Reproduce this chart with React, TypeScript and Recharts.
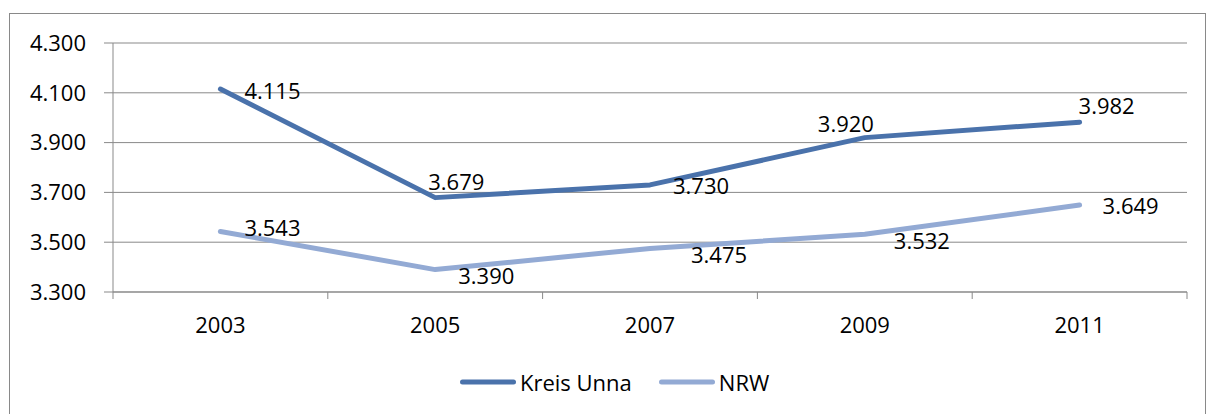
import React from 'react';
import { LineChart, Line, XAxis, YAxis, CartesianGrid, Legend } from 'recharts';

const years = ['2003', '2005', '2007', '2009', '2011'];
const kreisUnna = [4115, 3679, 3730, 3920, 3982];
const nrw = [3543, 3390, 3475, 3532, 3649];
const yTicks = [3300, 3500, 3700, 3900, 4100, 4300];

const seriesNames = ['Kreis Unna', 'NRW'];
const colors = ['#4A72AB', '#93AAD4'];

// label offsets (style, relative to point)
const unnaLabelOffsets = [[24, 2], [-7, -16], [23, 1], [-47, -14], [-1, -16]];
const nrwLabelOffsets = [[24, -3], [23, 6], [41, 7], [29, 7], [23, 1]];

const data = years.map((y, i) => ({ x: i + 0.5, year: y, unna: kreisUnna[i], nrw: nrw[i] }));

const FONT = '"Open Sans", sans-serif';
const FS = 22;
const GRAY = '#898989';

const fmt = (v: number) => `${Math.floor(v / 1000)}.${String(Math.round(v % 1000)).padStart(3, '0')}`;

const makeLabel = (offsets: number[][], values: number[]) => (props: any) => {
  const { x, y, value } = props;
  let idx = props.index;
  if (idx == null) idx = values.indexOf(value);
  const o = offsets[idx] || [0, 0];
  return (
    <text x={x + o[0]} y={y + o[1] + 8} fontSize={FS} fontFamily={FONT} fill="#000" textAnchor="start">
      {fmt(value)}
    </text>
  );
};

const XTick = (props: any) => {
  const { x, y, payload } = props;
  const v = payload.value;
  if (Math.abs(v - Math.round(v)) < 1e-6) {
    return <line x1={x} x2={x} y1={y} y2={y + 7} stroke={GRAY} strokeWidth={1} />;
  }
  const i = Math.floor(v);
  return (
    <text x={x} y={y + 41} textAnchor="middle" fontSize={FS} fontFamily={FONT} fill="#000">
      {years[i]}
    </text>
  );
};

const LegendContent = () => (
  <div style={{ display: 'flex', justifyContent: 'flex-start', alignItems: 'center', height: 30, fontFamily: FONT, fontSize: FS, paddingLeft: 460 }}>
    {seriesNames.map((n, i) => (
      <div key={n} style={{ display: 'flex', alignItems: 'center', marginRight: i === 0 ? 27 : 0 }}>
        <svg width={56} height={10} style={{ marginRight: 4 }}>
          <line x1={2.5} x2={53.5} y1={5} y2={5} stroke={colors[i]} strokeWidth={5} strokeLinecap="round" />
        </svg>
        <span>{n}</span>
      </div>
    ))}
  </div>
);

export default function App() {
  return (
    <div style={{ position: 'absolute', left: 0, top: 0, width: 1206, height: 414, overflow: 'hidden', background: '#fff' }}>
      <div style={{ position: 'absolute', left: 9, top: 13, width: 1197, height: 410, border: `1px solid ${GRAY}`, boxSizing: 'border-box' }} />
      <div style={{ position: 'absolute', left: 0, top: 0 }}>
        <LineChart width={1206} height={414} data={data} margin={{ top: 43, right: 19, left: 0, bottom: 52 }}>
          <CartesianGrid vertical={false} stroke={GRAY} strokeWidth={1} />
          <XAxis
            type="number"
            dataKey="x"
            domain={[0, 5]}
            ticks={[0, 0.5, 1, 1.5, 2, 2.5, 3, 3.5, 4, 4.5, 5]}
            interval={0}
            tickLine={false}
            tickSize={0}
            tickMargin={0}
            axisLine={{ stroke: GRAY }}
            height={40}
            tick={<XTick />}
            allowDecimals
          />
          <YAxis
            type="number"
            domain={[3300, 4300]}
            ticks={yTicks}
            interval={0}
            width={113}
            tickSize={9}
            tickMargin={18}
            tickLine={{ stroke: GRAY }}
            axisLine={{ stroke: GRAY }}
            tickFormatter={fmt}
            tick={{ fontSize: FS, fontFamily: FONT, fill: '#000' }}
          />
          <Legend
            content={<LegendContent />}
            wrapperStyle={{ position: 'absolute', left: 0, top: 367, width: 1206 }}
          />
          <Line
            dataKey="unna"
            name={seriesNames[0]}
            stroke={colors[0]}
            strokeWidth={5}
            strokeLinecap="round"
            strokeLinejoin="round"
            dot={false}
            activeDot={false}
            isAnimationActive={false}
            label={makeLabel(unnaLabelOffsets, kreisUnna)}
          />
          <Line
            dataKey="nrw"
            name={seriesNames[1]}
            stroke={colors[1]}
            strokeWidth={5}
            strokeLinecap="round"
            strokeLinejoin="round"
            dot={false}
            activeDot={false}
            isAnimationActive={false}
            label={makeLabel(nrwLabelOffsets, nrw)}
          />
        </LineChart>
      </div>
    </div>
  );
}
